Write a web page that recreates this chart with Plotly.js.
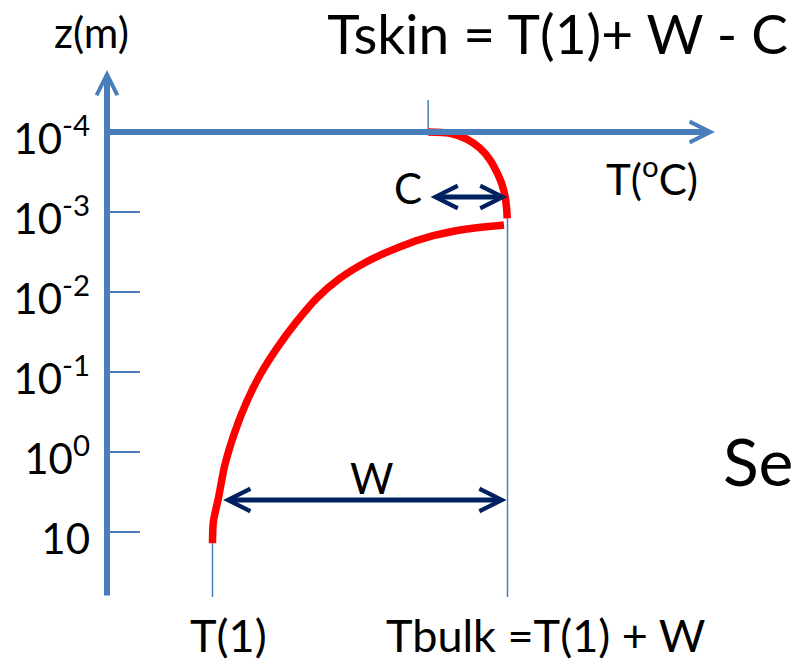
<!DOCTYPE html>
<html>
<head>
<meta charset="utf-8">
<script src="https://cdn.plot.ly/plotly-3.0.1.min.js"></script>
<style>html,body{margin:0;padding:0;background:#fff;}#chart{width:792px;height:664px;}</style>
</head>
<body>
<div id="chart"></div>
<script>
// ---- data (temperature in units of W above T(1), depth z in metres) ----
const depthTicks = [1e-4, 1e-3, 1e-2, 1e-1, 1, 10];
const depthTickText = ['10<sup>-4</sup>', '10<sup>-3</sup>', '10<sup>-2</sup>', '10<sup>-1</sup>', '10<sup>0</sup>', '10'];

// cool skin layer profile (top)
const skinT = [0.731, 0.805, 0.862, 0.907, 0.941, 0.963, 0.980, 0.992, 0.997, 0.999];
const skinZ = [1.0e-4, 1.04e-4, 1.23e-4, 1.6e-4, 2.24e-4, 3.13e-4, 4.38e-4, 6.44e-4, 9.0e-4, 1.2e-3];

// diurnal warm layer profile (below)
const warmT = [0.988, 0.862, 0.748, 0.636, 0.523, 0.432, 0.353, 0.285, 0.218, 0.161, 0.116, 0.076, 0.042, 0.020, 0.003, 0.0];
const warmZ = [1.45e-3, 1.63e-3, 1.98e-3, 2.71e-3, 4.18e-3, 6.74e-3, 0.0120, 0.0235, 0.0506, 0.109, 0.235, 0.557, 1.45, 3.79, 7.43, 13.8];

// reference temperatures
const T1 = 0;        // T(1)
const Tbulk = 1;     // T(1) + W
const Tskin = 0.731; // T(1) + W - C

// ---- layout geometry ----
const blue = '#4a7ebb', navy = '#002060';
const L = 107, R = 0, TOP = 60, BOT = 54, W = 792, H = 664;
const pw = W - L - R, ph = H - TOP - BOT;
const xRange = [-0.3576, 1.9644];
const yRange = [1.975, -4.9];          // log10(z), reversed (depth downward)
const zBottom = Math.pow(10, 1.8125);  // bottom end of the depth axis
const zTopMark = Math.pow(10, -4.4);   // top of the Tskin guide line
const lg = Math.log10;
const px = p => (p - L) / pw;          // page px -> paper x
const py = p => (H - BOT - p) / ph;    // page px -> paper y
const font = 'Lato, "Open Sans", sans-serif';

const guide = {color: blue, width: 1.5};
const traces = [
  {x: [T1, T1], y: [warmZ[warmZ.length - 1], zBottom], mode: 'lines', line: guide, hoverinfo: 'skip'},
  {x: [Tbulk, Tbulk], y: [skinZ[skinZ.length - 1], zBottom], mode: 'lines', line: guide, hoverinfo: 'skip'},
  {x: [Tskin, Tskin], y: [zTopMark, skinZ[0]], mode: 'lines', line: guide, hoverinfo: 'skip'},
  {x: skinT, y: skinZ, mode: 'lines', line: {color: '#ff0000', width: 7.5, shape: 'spline', smoothing: 0.8}, hoverinfo: 'skip'},
  {x: warmT, y: warmZ, mode: 'lines', line: {color: '#ff0000', width: 7.5, shape: 'spline', smoothing: 0.8}, hoverinfo: 'skip'}
];

const txt = (text, x, y, xanchor, size) => ({
  text: text, xref: 'paper', yref: 'paper', x: x, y: y, xanchor: xanchor, yanchor: 'middle',
  showarrow: false, font: {family: font, size: size, color: '#000'}
});

const annotations = [
  // vertical depth axis with arrow
  {x: xRange[0], y: -4.775, ax: xRange[0], ay: 1.8125, xref: 'x', yref: 'y', axref: 'x', ayref: 'y',
   text: '', showarrow: true, arrowhead: 5, arrowsize: 0.68, arrowwidth: 6, arrowcolor: blue},
  // horizontal temperature axis with arrow
  {x: 1.703, y: lg(1e-4), ax: xRange[0], ay: lg(1e-4), xref: 'x', yref: 'y', axref: 'x', ayref: 'y',
   text: '', showarrow: true, arrowhead: 5, arrowsize: 0.68, arrowwidth: 6, arrowcolor: blue},
  // W double arrow
  {x: Tbulk - 0.003, y: 0.6, ax: T1 + 0.031, ay: 0.6, xref: 'x', yref: 'y', axref: 'x', ayref: 'y',
   text: '', showarrow: true, arrowhead: 5, startarrowhead: 5, arrowside: 'end+start',
   arrowsize: 0.88, startarrowsize: 0.88, arrowwidth: 5, arrowcolor: navy},
  // C double arrow
  {x: Tbulk, y: -3.1875, ax: Tskin + 0.003, ay: -3.1875, xref: 'x', yref: 'y', axref: 'x', ayref: 'y',
   text: '', showarrow: true, arrowhead: 5, startarrowhead: 5, arrowside: 'end+start',
   arrowsize: 0.88, startarrowsize: 0.88, arrowwidth: 5, arrowcolor: navy},
  txt('z(m)', px(91), py(32), 'center', 42),
  txt('T(<sup>o</sup>C)', px(604), py(176), 'left', 42),
  txt('C', px(424), py(188), 'right', 42),
  txt('W', px(372), py(478), 'center', 42),
  txt('Se', px(721), py(460), 'left', 66),
  txt('T(1)', px(228), py(635), 'center', 45),
  txt('Tbulk =T(1) + W', px(384), py(635), 'left', 45)
];

const layout = {
  width: W, height: H,
  margin: {l: L, r: R, t: TOP, b: BOT, pad: 0},
  paper_bgcolor: '#fff', plot_bgcolor: '#fff',
  showlegend: false,
  title: {text: 'Tskin = T(1)+ W - C', font: {family: font, size: 55, color: '#000'},
          x: 0.995, xanchor: 'right', xref: 'container', y: 0.948, yanchor: 'middle', yref: 'container'},
  xaxis: {range: xRange, showgrid: false, zeroline: false, showline: false, showticklabels: false, ticks: '', fixedrange: true},
  yaxis: {type: 'log', range: yRange, tickmode: 'array', tickvals: depthTicks, ticktext: depthTickText,
          ticks: 'inside', ticklen: 33, tickwidth: 2.5, tickcolor: blue, showgrid: false, zeroline: false, showline: false,
          ticklabelstandoff: 16, ticklabelshift: -7, tickfont: {family: font, size: 42, color: '#000'}, fixedrange: true},
  annotations: annotations
};

Plotly.newPlot('chart', traces, layout, {displayModeBar: false, staticPlot: true});
</script>
</body>
</html>
